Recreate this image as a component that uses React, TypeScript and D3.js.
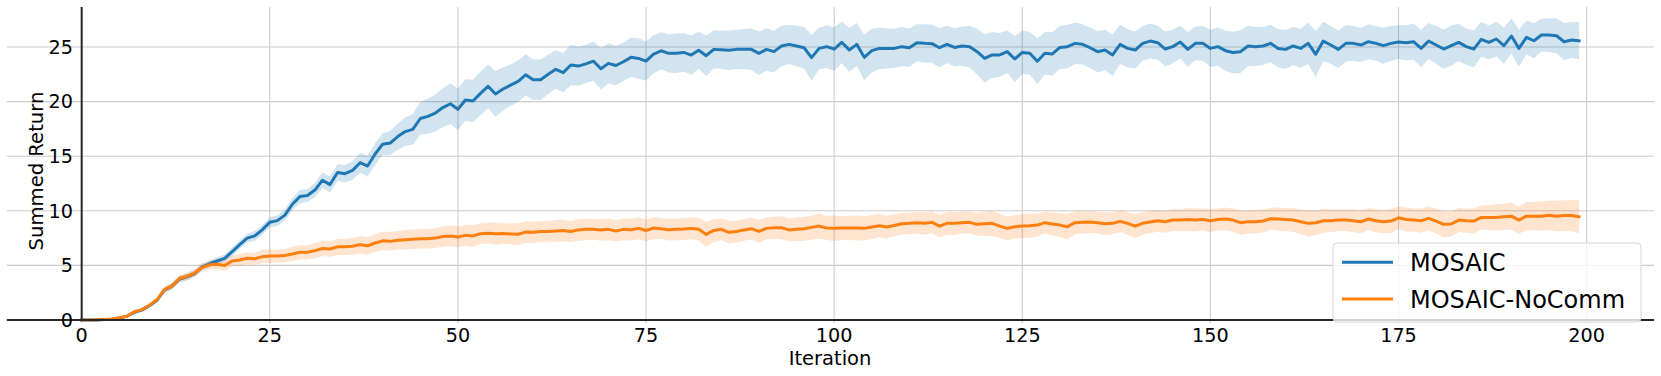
import React from 'react'
import { scaleLinear, line, area, range } from 'd3'

// Data
const iterations = range(0, 200)

const mosaicMean = [
    0, 0, 0, 0.05, 0.08, 0.15, 0.35, 0.7, 0.9, 1.3,
    1.8, 2.75, 3.1, 3.75, 3.95, 4.25, 4.85, 5.15, 5.4, 5.65,
    6.25, 6.9, 7.5, 7.7, 8.25, 8.95, 9.1, 9.6, 10.6, 11.3,
    11.4, 11.9, 12.8, 12.4, 13.5, 13.4, 13.7, 14.4, 14.1, 15.2,
    16.1, 16.2, 16.8, 17.25, 17.45, 18.45, 18.65, 18.95, 19.45, 19.8,
    19.3, 20.15, 20.05, 20.75, 21.4, 20.7, 21.15, 21.5, 21.85, 22.45,
    22.0, 22.0, 22.5, 22.95, 22.65, 23.35, 23.25, 23.45, 23.7, 23.0,
    23.5, 23.3, 23.65, 24.05, 23.95, 23.7, 24.35, 24.65, 24.42, 24.42,
    24.5, 24.26, 24.7, 24.2, 24.78, 24.75, 24.7, 24.78, 24.8, 24.78,
    24.42, 24.78, 24.57, 25.09, 25.24, 25.09, 24.93, 24.02, 24.87, 25.03,
    24.81, 25.43, 24.73, 25.24, 24.05, 24.66, 24.87, 24.87, 24.87, 25.03,
    24.93, 25.39, 25.33, 25.3, 24.93, 25.24, 24.96, 25.09, 25.03, 24.57,
    23.96, 24.27, 24.27, 24.57, 23.9, 24.5, 24.42, 23.7, 24.42, 24.36,
    24.96, 25.03, 25.33, 25.24, 24.93, 24.57, 24.72, 24.27, 25.24, 24.87,
    24.72, 25.33, 25.54, 25.39, 24.81, 25.03, 25.45, 24.78, 25.33, 25.33,
    24.87, 25.03, 24.66, 24.5, 24.57, 25.09, 25.03, 25.09, 25.33, 24.87,
    24.78, 25.09, 24.87, 25.33, 24.33, 25.54, 25.18, 24.78, 25.33, 25.33,
    25.18, 25.48, 25.33, 25.12, 25.33, 25.45, 25.39, 25.48, 24.87, 25.54,
    25.18, 24.81, 25.12, 25.42, 25.03, 24.81, 25.7, 25.42, 25.73, 25.12,
    26.0, 24.87, 25.88, 25.57, 26.09, 26.09, 26.03, 25.48, 25.64, 25.57,
]

const mosaicStd = [
    0, 0, 0, 0.02, 0.03, 0.05, 0.08, 0.1, 0.12, 0.15,
    0.2, 0.25, 0.3, 0.3, 0.3, 0.3, 0.3, 0.3, 0.35, 0.35,
    0.4, 0.4, 0.4, 0.45, 0.45, 0.45, 0.5, 0.5, 0.55, 0.6,
    0.6, 0.65, 0.7, 0.75, 0.75, 0.8, 0.85, 0.9, 0.95, 1.0,
    1.0, 1.1, 1.2, 1.3, 1.4, 1.5, 1.6, 1.7, 1.8, 1.85,
    1.9, 1.9, 1.95, 2.0, 2.0, 2.1, 2.0, 1.9, 1.9, 1.9,
    1.85, 1.85, 1.8, 1.75, 1.8, 1.85, 1.8, 1.75, 1.8, 1.9,
    1.85, 1.8, 1.75, 1.8, 1.85, 1.8, 1.75, 1.7, 1.75, 1.8,
    1.75, 1.8, 1.7, 1.85, 1.75, 1.75, 1.8, 1.8, 1.85, 1.9,
    2.0, 1.95, 1.9, 1.85, 1.8, 1.85, 1.9, 2.1, 1.9, 1.95,
    2.0, 1.9, 2.0, 1.95, 2.1, 2.0, 1.9, 1.85, 1.8, 1.8,
    1.75, 1.7, 1.75, 1.75, 1.8, 1.7, 1.75, 1.8, 1.9, 2.1,
    2.2, 2.1, 2.0, 1.95, 2.1, 2.0, 1.95, 2.1, 1.95, 2.0,
    1.95, 2.0, 1.9, 1.85, 1.85, 1.9, 1.85, 1.9, 1.8, 1.75,
    1.7, 1.6, 1.6, 1.55, 1.6, 1.55, 1.5, 1.6, 1.55, 1.6,
    1.7, 1.75, 1.85, 1.9, 1.95, 1.85, 1.8, 1.75, 1.7, 1.75,
    1.8, 1.75, 1.8, 1.9, 2.1, 1.8, 1.75, 1.7, 1.65, 1.6,
    1.55, 1.6, 1.6, 1.65, 1.6, 1.55, 1.6, 1.65, 1.7, 1.65,
    1.75, 1.8, 1.85, 1.7, 1.65, 1.7, 1.6, 1.55, 1.6, 1.65,
    1.6, 1.7, 1.55, 1.6, 1.5, 1.55, 1.6, 1.7, 1.65, 1.7,
]

const noCommMean = [
    0, 0, 0.02, 0.05, 0.1, 0.2, 0.35, 0.75, 0.95, 1.35,
    1.85, 2.8, 3.1, 3.8, 4.0, 4.3, 4.8, 5.05, 5.1, 5.0,
    5.4, 5.5, 5.65, 5.6, 5.8, 5.85, 5.85, 5.9, 6.05, 6.2,
    6.2, 6.35, 6.55, 6.5, 6.7, 6.7, 6.75, 6.9, 6.8, 7.05,
    7.25, 7.2, 7.3, 7.35, 7.4, 7.45, 7.45, 7.5, 7.65, 7.7,
    7.6, 7.75, 7.7, 7.9, 7.95, 7.9, 7.92, 7.88, 7.85, 8.05,
    8.03, 8.1, 8.1, 8.15, 8.2, 8.1, 8.25, 8.3, 8.3, 8.25,
    8.3, 8.15, 8.3, 8.27, 8.39, 8.2, 8.42, 8.36, 8.27, 8.3,
    8.33, 8.39, 8.3, 7.84, 8.2, 8.3, 8.03, 8.1, 8.25, 8.36,
    8.12, 8.39, 8.45, 8.45, 8.25, 8.3, 8.36, 8.48, 8.6, 8.42,
    8.39, 8.42, 8.42, 8.42, 8.39, 8.51, 8.63, 8.51, 8.66, 8.82,
    8.85, 8.91, 8.85, 8.94, 8.6, 8.85, 8.85, 8.91, 8.94, 8.76,
    8.82, 8.85, 8.6, 8.39, 8.54, 8.6, 8.63, 8.69, 8.91, 8.79,
    8.69, 8.54, 8.91, 8.94, 8.97, 8.91, 8.82, 8.85, 9.03, 8.85,
    8.6, 8.85, 8.97, 9.09, 9.0, 9.15, 9.15, 9.21, 9.15, 9.21,
    9.09, 9.21, 9.24, 9.15, 8.91, 9.0, 9.0, 9.06, 9.27, 9.24,
    9.21, 9.15, 9.0, 8.85, 8.91, 9.09, 9.09, 9.15, 9.15, 9.09,
    9.0, 9.24, 9.09, 9.0, 9.06, 9.36, 9.21, 9.15, 9.09, 9.3,
    9.06, 8.76, 8.79, 9.15, 9.09, 9.06, 9.39, 9.39, 9.39, 9.45,
    9.51, 9.15, 9.51, 9.51, 9.51, 9.6, 9.51, 9.57, 9.57, 9.45,
]

const noCommStd = [
    0, 0, 0, 0.02, 0.03, 0.05, 0.08, 0.1, 0.12, 0.15,
    0.2, 0.25, 0.3, 0.3, 0.35, 0.35, 0.4, 0.4, 0.45, 0.5,
    0.5, 0.55, 0.55, 0.55, 0.6, 0.6, 0.6, 0.6, 0.65, 0.65,
    0.65, 0.7, 0.7, 0.7, 0.75, 0.75, 0.75, 0.8, 0.8, 0.8,
    0.85, 0.85, 0.85, 0.9, 0.9, 0.9, 0.9, 0.9, 0.95, 0.95,
    0.95, 0.95, 1.0, 0.95, 0.95, 1.0, 0.95, 0.95, 1.0, 1.0,
    1.0, 0.95, 0.95, 1.0, 1.0, 0.95, 1.0, 1.0, 0.95, 1.0,
    1.0, 0.95, 1.0, 1.0, 1.0, 1.0, 1.0, 0.95, 1.0, 1.0,
    1.0, 1.0, 1.05, 1.15, 1.05, 1.0, 1.05, 1.0, 1.0, 1.0,
    1.05, 1.0, 1.0, 1.05, 1.05, 1.1, 1.1, 1.1, 1.15, 1.1,
    1.15, 1.1, 1.1, 1.15, 1.1, 1.1, 1.05, 1.05, 1.0, 1.0,
    1.0, 1.0, 1.05, 1.0, 1.05, 1.05, 1.05, 1.0, 1.0, 1.05,
    1.1, 1.15, 1.1, 1.1, 1.05, 1.1, 1.1, 1.05, 1.0, 1.05,
    1.1, 1.15, 1.05, 1.0, 1.0, 1.0, 1.05, 1.0, 1.0, 1.05,
    1.1, 1.05, 1.0, 1.0, 1.0, 1.0, 1.0, 1.05, 1.05, 1.0,
    1.05, 1.0, 1.05, 1.05, 1.1, 1.1, 1.05, 1.05, 1.0, 1.05,
    1.05, 1.1, 1.1, 1.2, 1.15, 1.1, 1.05, 1.0, 1.0, 1.05,
    1.05, 1.0, 1.05, 1.05, 1.1, 1.05, 1.1, 1.05, 1.1, 1.1,
    1.15, 1.2, 1.15, 1.1, 1.1, 1.15, 1.1, 1.15, 1.2, 1.2,
    1.25, 1.25, 1.3, 1.3, 1.35, 1.35, 1.4, 1.4, 1.45, 1.5,
]

const xTicks = [0, 25, 50, 75, 100, 125, 150, 175, 200]
const yTicks = [0, 5, 10, 15, 20, 25]

const series = [
    { name: 'MOSAIC', mean: mosaicMean, std: mosaicStd, color: '#1f77b4' },
    { name: 'MOSAIC-NoComm', mean: noCommMean, std: noCommStd, color: '#ff7f0e' },
]

// Style
const width = 1661
const height = 376
const font = 'DejaVu Sans, sans-serif'
const gridColor = '#cccccc'
const spineColor = '#262626'

const App = () => {
    const xScale = scaleLinear().domain([-9.95, 208.95]).range([6.8, 1654])
    const yScale = scaleLinear().domain([0, 28.66]).range([320, 7])

    const meanLine = line<number>()
        .x((d, i) => xScale(iterations[i]))
        .y((d) => yScale(d))

    const band = (s) => area<number>()
        .x((d, i) => xScale(iterations[i]))
        .y0((d, i) => yScale(s.mean[i] - s.std[i]))
        .y1((d, i) => yScale(s.mean[i] + s.std[i]))(s.mean)

    return (
        <svg width={width} height={height}
            style={{ position: 'absolute', left: 0, top: 0, background: '#fff' }}
            fontFamily={font}>
            {/* grid */}
            {yTicks.map((t) => (
                <line key={'gy' + t} x1={6.8} x2={1654} y1={yScale(t)} y2={yScale(t)}
                    stroke={gridColor} strokeWidth={1.1} />
            ))}
            {xTicks.map((t) => (
                <line key={'gx' + t} x1={xScale(t)} x2={xScale(t)} y1={7} y2={323}
                    stroke={gridColor} strokeWidth={1.1} />
            ))}

            {/* bands + lines */}
            {series.map((s) => (
                <path key={'b' + s.name} d={band(s)} fill={s.color} fillOpacity={0.2} stroke="none" />
            ))}
            {series.map((s) => (
                <path key={'l' + s.name} d={meanLine(s.mean)} fill="none" stroke={s.color}
                    strokeWidth={3} strokeLinejoin="round" strokeLinecap="square" />
            ))}

            {/* spines */}
            <line x1={xScale(0)} x2={xScale(0)} y1={7} y2={320} stroke={spineColor} strokeWidth={2} />
            <line x1={6.8} x2={1654} y1={yScale(0)} y2={yScale(0)} stroke={spineColor} strokeWidth={2} />

            {/* tick labels */}
            {xTicks.map((t) => (
                <text key={'tx' + t} x={xScale(t)} y={342} textAnchor="middle" fontSize={19.2} fill="#000">{t}</text>
            ))}
            {yTicks.map((t) => (
                <text key={'ty' + t} x={73} y={yScale(t)} dy="0.36em" textAnchor="end" fontSize={19.2} fill="#000">{t}</text>
            ))}

            {/* axis labels */}
            <text x={830} y={365} textAnchor="middle" fontSize={19.5} fill="#000">Iteration</text>
            <text transform="translate(42.5,171) rotate(-90)" textAnchor="middle" fontSize={19.6} fill="#000">Summed Return</text>

            {/* legend */}
            <rect x={1333} y={243} width={308} height={79} rx={4} fill="#fff" fillOpacity={0.8}
                stroke="#d6d6d6" strokeWidth={1} />
            {series.map((s, i) => (
                <g key={'lg' + s.name} transform={`translate(0, ${i * 36.8})`}>
                    <line x1={1342} x2={1393} y1={262.3} y2={262.3} stroke={s.color} strokeWidth={3} />
                    <text x={1410} y={271} fontSize={24} fill="#000">{s.name}</text>
                </g>
            ))}
        </svg>
    )
}

export default App
